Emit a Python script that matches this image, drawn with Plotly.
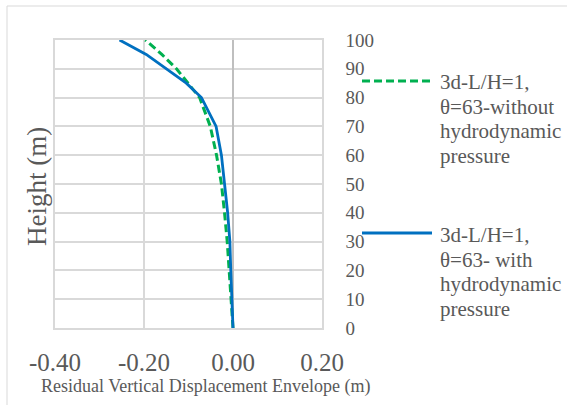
import plotly.graph_objects as go

heights = [0, 10, 20, 30, 40, 50, 60, 70, 80, 85, 90, 95, 100]
without_hp = [0.0, -0.004, -0.008, -0.013, -0.019, -0.026, -0.037, -0.051, -0.075, -0.100, -0.127, -0.160, -0.197]
with_hp = [0.0, -0.003, -0.005, -0.007, -0.012, -0.019, -0.026, -0.038, -0.071, -0.105, -0.150, -0.195, -0.255]
series_names = [["3d-L/H=1,", "θ=63-without", "hydrodynamic", "pressure"],
                ["3d-L/H=1,", "θ=63- with", "hydrodynamic", "pressure"]]
x_ticks = [-0.4, -0.2, 0.0, 0.2]
x_ticklabels = ["-0.40", "-0.20", "0.00", "0.20"]
y_ticks = list(range(0, 101, 10))

GREEN = "#00B050"
BLUE = "#0070C0"
TXT = "#595959"
FONT = "Liberation Serif"

fig = go.Figure()
fig.add_trace(go.Scatter(x=without_hp, y=heights, mode="lines", name="without",
                         line=dict(color=GREEN, width=3, dash="8px,4px"), showlegend=False))
fig.add_trace(go.Scatter(x=with_hp, y=heights, mode="lines", name="with",
                         line=dict(color=BLUE, width=2.8), showlegend=False))

W, H = 567, 405
L, R, T, B = 55, 322, 40, 328
pw, ph = R - L, B - T

def px(xp):
    return (xp - L) / pw

def py(yp):
    return (B - yp) / ph

shapes = []
# outer chart border (top and left)
shapes.append(dict(type="line", xref="paper", yref="paper", x0=px(7), x1=px(567), y0=py(6), y1=py(6),
                   line=dict(color="#d9d9d9", width=1)))
shapes.append(dict(type="line", xref="paper", yref="paper", x0=px(7), x1=px(7), y0=py(6), y1=py(405),
                   line=dict(color="#d9d9d9", width=1)))
# legend samples
shapes.append(dict(type="line", xref="paper", yref="paper", x0=px(362), x1=px(432), y0=py(81), y1=py(81),
                   line=dict(color=GREEN, width=3, dash="8px,4px")))
shapes.append(dict(type="line", xref="paper", yref="paper", x0=px(362), x1=px(432), y0=py(233), y1=py(233),
                   line=dict(color=BLUE, width=2.8)))

annotations = []
for lines, y0 in zip(series_names, [82, 235]):
    for i, t in enumerate(lines):
        annotations.append(dict(text=t, xref="paper", yref="paper", x=px(438), y=py(y0 + i * 24.5),
                                xanchor="left", yanchor="middle", showarrow=False,
                                font=dict(family=FONT, size=21, color=TXT)))
annotations += [
    dict(text="Residual Vertical Displacement Envelope (m)", xref="paper", yref="paper",
         x=px(206), y=py(386), xanchor="center", yanchor="middle", showarrow=False,
         font=dict(family=FONT, size=18, color=TXT)),
    dict(text="Height (m)", xref="paper", yref="paper", x=px(37), y=py(187), xanchor="center", yanchor="middle",
         textangle=-90, showarrow=False, font=dict(family=FONT, size=27, color=TXT)),
]

fig.update_layout(
    width=W, height=H,
    margin=dict(l=L, r=W - R, t=T, b=H - B),
    paper_bgcolor="white", plot_bgcolor="white",
    shapes=shapes, annotations=annotations,
    font=dict(family=FONT, color=TXT),
    xaxis=dict(range=[-0.4, 0.2], tickvals=x_ticks, ticktext=x_ticklabels,
               showgrid=True, gridcolor="#d9d9d9", gridwidth=1.5,
               zeroline=True, zerolinecolor="#bfbfbf", zerolinewidth=1.5,
               showline=True, mirror=True, linecolor="#d9d9d9", linewidth=1.5,
               ticks="", ticklabelstandoff=11,
               tickfont=dict(family=FONT, size=25, color=TXT)),
    yaxis=dict(range=[0, 100], tickvals=y_ticks, side="right",
               showgrid=True, gridcolor="#d9d9d9", gridwidth=1.5,
               zeroline=False, showline=True, mirror=True, linecolor="#d9d9d9", linewidth=1.5,
               ticks="", ticklabelstandoff=18,
               tickfont=dict(family=FONT, size=19, color=TXT)),
)

fig.write_html("out.html")
